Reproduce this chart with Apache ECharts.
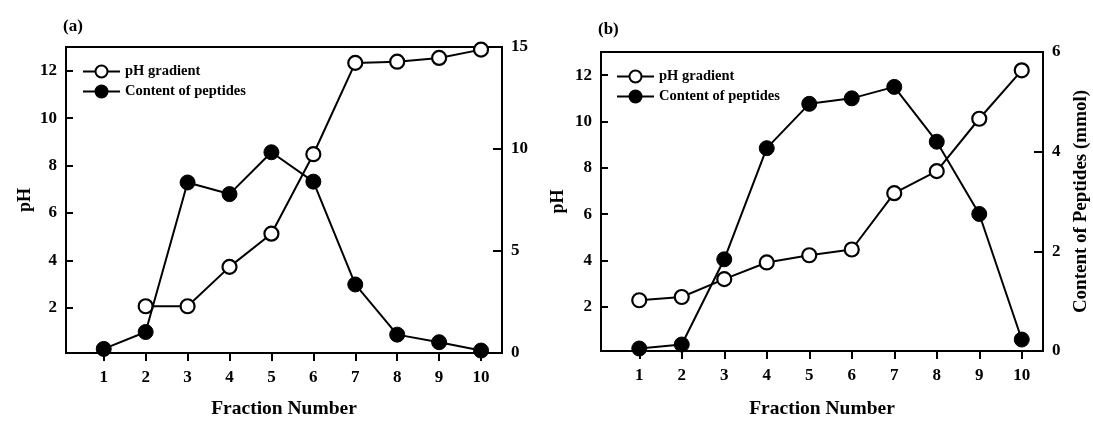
<!DOCTYPE html>
<html>
<head>
<meta charset="utf-8">
<script src="https://cdn.jsdelivr.net/npm/echarts@6/dist/echarts.min.js"></script>
<style>
  html, body { margin: 0; padding: 0; background: #fff; }
  #chart { width: 1093px; height: 424px; }
</style>
</head>
<body>
<div id="chart"></div>
<script>
// Fraction numbers shared by both panels
const fractions = [1, 2, 3, 4, 5, 6, 7, 8, 9, 10];

// Panel (a)
const phA = [null, 2.07, 2.07, 3.73, 5.13, 8.48, 12.33, 12.38, 12.54, 12.89];
const peptidesA = [0.2, 1.03, 8.36, 7.79, 9.84, 8.4, 3.36, 0.9, 0.53, 0.12];

// Panel (b)
const phB = [2.29, 2.43, 3.2, 3.92, 4.23, 4.48, 6.91, 7.86, 10.12, 12.21];
const peptidesB = [0.05, 0.13, 1.84, 4.07, 4.96, 5.07, 5.3, 4.2, 2.75, 0.23];

// Tick labels
const phTicks = [2, 4, 6, 8, 10, 12];
const peptideTicksA = [0, 5, 10, 15];
const peptideTicksB = [0, 2, 4, 6];

const FONT = 'Liberation Serif';
const ink = '#000';

function pairs(xs, ys) {
  return xs.map((x, i) => [x, ys[i]]).filter(p => p[1] !== null);
}

const tickFont = { fontFamily: FONT, fontWeight: 'bold', fontSize: 17, color: ink };

function xAxis(gridIndex, gap) {
  return {
    type: 'value', gridIndex, min: 0.1, max: 10.5,
    name: 'Fraction Number', nameLocation: 'middle', nameGap: gap,
    nameTextStyle: { fontFamily: FONT, fontWeight: 'bold', fontSize: 19.5, color: ink },
    axisLine: { lineStyle: { color: ink, width: 2 } },
    axisTick: { show: true, inside: false, length: 8, lineStyle: { color: ink, width: 2 }, customValues: fractions },
    axisLabel: Object.assign({ margin: 16, customValues: fractions }, tickFont),
    splitLine: { show: false }
  };
}

function phAxis(gridIndex, gap) {
  return {
    type: 'value', gridIndex, position: 'left', min: 0.1, max: 13,
    name: 'pH', nameLocation: 'middle', nameGap: gap, nameRotate: 90,
    nameTextStyle: { fontFamily: FONT, fontWeight: 'bold', fontSize: 18, color: ink },
    axisLine: { show: true, lineStyle: { color: ink, width: 2 } },
    axisTick: { show: true, inside: true, length: 7, lineStyle: { color: ink, width: 2 }, customValues: phTicks },
    axisLabel: Object.assign({ margin: 9, customValues: phTicks }, tickFont),
    splitLine: { show: false }
  };
}

function peptideAxis(gridIndex, max, interval, ticks, name) {
  return {
    type: 'value', gridIndex, position: 'right', min: 0, max, interval,
    name, nameLocation: 'middle', nameGap: 29, nameRotate: 90,
    nameTextStyle: { fontFamily: FONT, fontWeight: 'bold', fontSize: 19, color: ink },
    axisLine: { show: true, lineStyle: { color: ink, width: 2 } },
    axisTick: { show: true, inside: true, length: 9, lineStyle: { color: ink, width: 2 }, customValues: ticks },
    axisLabel: Object.assign({ margin: 9, customValues: ticks }, tickFont),
    splitLine: { show: false }
  };
}

function phSeries(xi, yi, data) {
  return {
    name: 'pH gradient', type: 'line', xAxisIndex: xi, yAxisIndex: yi,
    data, symbol: 'circle', symbolSize: 14, clip: false,
    lineStyle: { color: ink, width: 2 },
    itemStyle: { color: '#fff', borderColor: ink, borderWidth: 2.2 },
    emphasis: { disabled: true }, z: 2
  };
}

function peptideSeries(xi, yi, data) {
  return {
    name: 'Content of peptides', type: 'line', xAxisIndex: xi, yAxisIndex: yi,
    data, symbol: 'circle', symbolSize: 15, clip: false,
    lineStyle: { color: ink, width: 2 },
    itemStyle: { color: ink, borderColor: ink, borderWidth: 1 },
    emphasis: { disabled: true }, z: 3
  };
}

function legend(left, top) {
  return {
    left, top, orient: 'vertical', itemWidth: 37, itemHeight: 15, itemGap: 5,
    padding: 0, selectedMode: false,
    textStyle: { fontFamily: FONT, fontWeight: 'bold', fontSize: 14.5, color: ink },
    data: ['pH gradient', 'Content of peptides']
  };
}

const chart = echarts.init(document.getElementById('chart'), null, { renderer: 'canvas' });
chart.setOption({
  backgroundColor: '#fff',
  animation: false,
  title: [
    { text: '(a)', left: 63, top: 18, padding: 0, textStyle: { fontFamily: FONT, fontWeight: 'bold', fontSize: 17, color: ink } },
    { text: '(b)', left: 598, top: 21, padding: 0, textStyle: { fontFamily: FONT, fontWeight: 'bold', fontSize: 17, color: ink } }
  ],
  legend: [legend(82, 64), legend(616, 69)],
  grid: [
    { left: 66, top: 47, width: 436, height: 306, show: true, borderColor: ink, borderWidth: 2, backgroundColor: 'transparent' },
    { left: 601, top: 52, width: 442, height: 307, show: true, borderColor: ink, borderWidth: 2, backgroundColor: 'transparent' }
  ],
  xAxis: [xAxis(0, 46), xAxis(1, 48)],
  yAxis: [
    phAxis(0, 32),
    peptideAxis(0, 15, 5, peptideTicksA, ''),
    phAxis(1, 34),
    peptideAxis(1, 6, 2, peptideTicksB, 'Content of Peptides (mmol)')
  ],
  series: [
    phSeries(0, 0, pairs(fractions, phA)),
    peptideSeries(0, 1, pairs(fractions, peptidesA)),
    phSeries(1, 2, pairs(fractions, phB)),
    peptideSeries(1, 3, pairs(fractions, peptidesB))
  ]
});
</script>
</body>
</html>
